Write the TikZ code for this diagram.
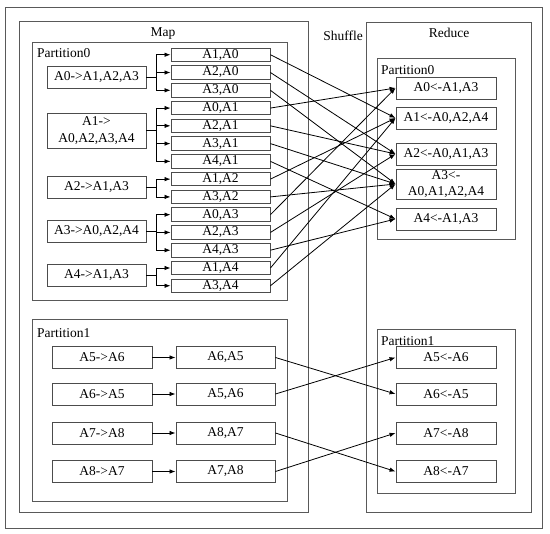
\documentclass[tikz,border=0pt]{standalone}
\usepackage{fontspec}
\setmainfont{Liberation Serif}
\usetikzlibrary{arrows.meta}
\begin{document}
\begin{tikzpicture}[x=1pt,y=-1pt,
  frame/.style={draw=black!65,line width=0.9pt},
  nd/.style={draw=black!70,line width=0.9pt,inner sep=0pt,align=center,font=\fontsize{13.5}{16.5}\selectfont},
  outn/.style={nd,minimum width=99pt,minimum height=13.5pt},
  srcn/.style={nd,minimum width=99pt,minimum height=22pt},
  redn/.style={nd,minimum width=100pt,minimum height=22pt},
  lbl/.style={inner sep=0pt,font=\fontsize{13.5}{16}\selectfont},
  arr/.style={draw=black,line width=0.8pt,-{Latex[length=6pt,width=4.5pt]}}]
\useasboundingbox (0,0) rectangle (550,534);
% frames
\draw[frame] (5,7) rectangle (542,528);
\draw[frame] (19,21) rectangle (308,512);
\draw[frame] (32,42) rectangle (287,300);
\draw[frame] (32,319) rectangle (287,501);
\draw[frame] (366,22) rectangle (531,512);
\draw[frame] (377,58) rectangle (515,239);
\draw[frame] (377,329) rectangle (515,493);
\node[lbl] (tmap) at (163,34) {Map};
\node[lbl] (tshuf) at (343,36) {Shuffle};
\node[lbl] (tred) at (449,33) {Reduce};
\node[lbl,anchor=west] (lp0) at (37,53) {Partition0};
\node[lbl,anchor=west] (lp1) at (37,333) {Partition1};
\node[lbl,anchor=west] (lr0) at (381,70) {Partition0};
\node[lbl,anchor=west] (lr1) at (381,341) {Partition1};
% map partition0 sources
\node[srcn] (s0) at (96.5,77) {A0->A1,A2,A3};
\node[srcn,minimum height=35pt] (s1) at (96.5,130.5) {A1->\\A0,A2,A3,A4};
\node[srcn] (s2) at (96.5,187) {A2->A1,A3};
\node[srcn] (s3) at (96.5,231) {A3->A0,A2,A4};
\node[srcn] (s4) at (96.5,275) {A4->A1,A3};
% map outputs
\foreach \n/\t [count=\i from 0] in {m10/{A1,A0},m20/{A2,A0},m30/{A3,A0},m01/{A0,A1},m21/{A2,A1},m31/{A3,A1},m41/{A4,A1},m12/{A1,A2},m32/{A3,A2},m03/{A0,A3},m23/{A2,A3},m43/{A4,A3},m14/{A1,A4},m34/{A3,A4}}
  \node[outn] (\n) at (220.5,{54.75+17.77*\i}) {\t};
% branches
\foreach \s/\t in {s0/m10,s0/m20,s0/m30,s1/m01,s1/m21,s1/m31,s1/m41,s2/m12,s2/m32,s3/m03,s3/m23,s3/m43,s4/m14,s4/m34}
  \draw[arr] (\s.east) -- ++(10,0) |- (\t.west);
% reduce partition0
\node[redn] (r0) at (446,88) {A0<-A1,A3};
\node[redn] (r1) at (446,118) {A1<-A0,A2,A4};
\node[redn] (r2) at (446,154) {A2<-A0,A1,A3};
\node[redn,minimum height=30pt] (r3) at (446,184) {A3<-\\A0,A1,A2,A4};
\node[redn] (r4) at (446,219) {A4<-A1,A3};
\foreach \m/\r in {m10/r1,m20/r2,m30/r3,m01/r0,m21/r2,m31/r3,m41/r4,m12/r1,m32/r3,m03/r0,m23/r2,m43/r4,m14/r1,m34/r3}
  \draw[arr] (\m.east) -- (\r.west);
% map partition1
\node[redn] (a5) at (102,357.5) {A5->A6};
\node[redn] (a6) at (102,394) {A6->A5};
\node[redn] (a7) at (102,433) {A7->A8};
\node[redn] (a8) at (102,471.5) {A8->A7};
\node[srcn] (b65) at (225.5,357.5) {A6,A5};
\node[srcn] (b56) at (225.5,394) {A5,A6};
\node[srcn] (b87) at (225.5,433) {A8,A7};
\node[srcn] (b78) at (225.5,471.5) {A7,A8};
\draw[arr] (a5) -- (b65);
\draw[arr] (a6) -- (b56);
\draw[arr] (a7) -- (b87);
\draw[arr] (a8) -- (b78);
% reduce partition1
\node[redn] (r5) at (446,357.5) {A5<-A6};
\node[redn] (r6) at (446,394) {A6<-A5};
\node[redn] (r7) at (446,433) {A7<-A8};
\node[redn] (r8) at (446,471.5) {A8<-A7};
\draw[arr] (b65.east) -- (r6.west);
\draw[arr] (b56.east) -- (r5.west);
\draw[arr] (b87.east) -- (r8.west);
\draw[arr] (b78.east) -- (r7.west);
\end{tikzpicture}
\end{document}
